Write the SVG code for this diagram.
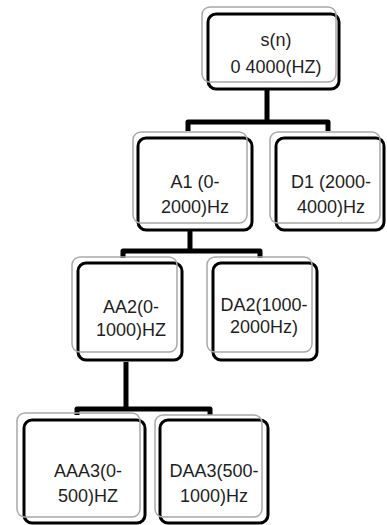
<svg xmlns="http://www.w3.org/2000/svg" width="387" height="525" viewBox="0 0 387 525">
<style>
.bk{fill:none;stroke:#000;stroke-width:3}
.gr{fill:none;stroke:#a8a8a8;stroke-width:1.5}
.t{font-family:"Liberation Sans",Arial,sans-serif;font-size:18px;fill:#1e1e1e;text-anchor:middle}
.c{fill:none;stroke:#000;stroke-width:5;stroke-linejoin:round}
</style>
<rect width="387" height="525" fill="#fff"/>
<g id="connectors">
<path class="c" d="M267,89 V122"/>
<path class="c" d="M188,131 V122 H328 V131"/>
<path class="c" d="M190,230 V251"/>
<path class="c" d="M123,258 V251 H260 V258"/>
<path class="c" d="M126,362 V409"/>
<path class="c" d="M77,415 V409 H210 V415"/>
</g>
<g id="node-sn">
<rect class="bk" x="208" y="14" width="131" height="75" rx="8"/>
<rect class="gr" x="202" y="7" width="134" height="75" rx="8"/>
<text class="t" x="276" y="46">s(n)</text>
<text class="t" x="276" y="73">0 4000(HZ)</text>
</g>
<g id="node-a1">
<rect class="bk" x="138" y="138" width="114" height="92" rx="8"/>
<rect class="gr" x="133" y="132" width="114" height="91" rx="8"/>
<text class="t" x="195" y="188">A1 (0-</text>
<text class="t" x="195" y="213">2000)Hz</text>
</g>
<g id="node-d1">
<rect class="bk" x="276" y="138" width="108" height="92" rx="8"/>
<rect class="gr" x="270" y="132" width="110" height="91" rx="8"/>
<text class="t" x="331" y="188">D1 (2000-</text>
<text class="t" x="331" y="213">4000)Hz</text>
</g>
<g id="node-aa2">
<rect class="bk" x="78" y="263" width="104" height="97" rx="8"/>
<rect class="gr" x="72" y="257" width="105" height="95" rx="8"/>
<text class="t" x="131" y="313">AA2(0-</text>
<text class="t" x="131" y="336">1000)HZ</text>
</g>
<g id="node-da2">
<rect class="bk" x="213" y="263" width="104" height="97" rx="8"/>
<rect class="gr" x="207" y="257" width="105" height="95" rx="8"/>
<text class="t" x="264" y="311">DA2(1000-</text>
<text class="t" x="264" y="333">2000Hz)</text>
</g>
<g id="node-aaa3">
<rect class="bk" x="24" y="420" width="121" height="103" rx="8"/>
<rect class="gr" x="17" y="413" width="123" height="104" rx="8"/>
<text class="t" x="88" y="477">AAA3(0-</text>
<text class="t" x="88" y="502">500)HZ</text>
</g>
<g id="node-daa3">
<rect class="bk" x="160" y="420" width="108" height="103" rx="8"/>
<rect class="gr" x="155" y="415" width="107" height="102" rx="8"/>
<text class="t" x="214" y="477">DAA3(500-</text>
<text class="t" x="214" y="502">1000)Hz</text>
</g>
</svg>
